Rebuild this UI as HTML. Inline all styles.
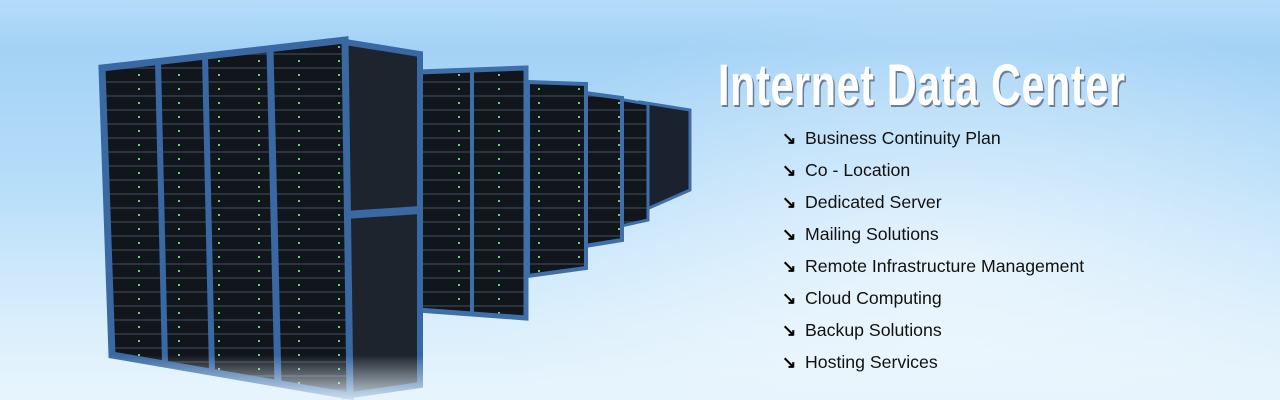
<!DOCTYPE html>
<html><head><meta charset="utf-8"><style>
html,body{margin:0;padding:0}
body{width:1280px;height:400px;overflow:hidden;position:relative;background:linear-gradient(180deg,#b4dcf8 0%,#a3d2f6 12%,#b6ddf9 45%,#d9eefc 80%,#e6f4fd 100%);font-family:"Liberation Sans",sans-serif}
.glow{position:absolute;left:0;top:0;width:1280px;height:400px;background:radial-gradient(ellipse 500px 260px at 950px 260px,rgba(255,255,255,.55),rgba(255,255,255,0))}
.title{position:absolute;left:718px;top:52px;font-size:58px;font-weight:bold;color:#fff;letter-spacing:1px;transform:scaleX(.71);transform-origin:0 0;white-space:nowrap;text-shadow:2px 2px 0 #6a7f95;font-family:"Liberation Sans Narrow","Liberation Sans",sans-serif}
ul{position:absolute;left:782px;top:126px;margin:0;padding:0;list-style:none}
li{height:32px;font-size:17.7px;color:#111;line-height:24px;white-space:nowrap}
li b{display:inline-block;width:23px;font-size:17px;font-weight:bold;color:#000}
</style></head><body>
<div class="glow"></div>
<svg width="1280" height="400" style="position:absolute;left:0;top:0">
<defs>
<pattern id="sv" width="40" height="14" patternUnits="userSpaceOnUse"><rect width="40" height="14" fill="#11161c"/><rect y="11" width="40" height="2" fill="#2b333d"/><rect x="18" y="4" width="2" height="2" fill="#6c7"/></pattern>
<linearGradient id="refl" x1="0" y1="0" x2="0" y2="1"><stop offset="0" stop-color="#e6f4fd" stop-opacity="0"/><stop offset="1" stop-color="#e6f4fd" stop-opacity=".85"/></linearGradient>
</defs>
<polygon points="640,102 690,110 690,190 640,212" fill="#1a2230" stroke="#3f6fa8" stroke-width="3"/>
<polygon points="612,98 648,104 648,220 612,228" fill="url(#sv)" stroke="#3f6fa8" stroke-width="3"/>
<polygon points="585,93 622,98 622,240 585,246" fill="url(#sv)" stroke="#3f6fa8" stroke-width="4"/>
<polygon points="528,82 586,84 586,268 528,276" fill="url(#sv)" stroke="#3f6fa8" stroke-width="4"/>
<polygon points="418,72 526,68 526,318 418,310" fill="url(#sv)" stroke="#3f6fa8" stroke-width="5"/>
<line x1="472" y1="70" x2="472" y2="316" stroke="#3f6fa8" stroke-width="4"/>
<polygon points="345,42 420,54 420,385 345,396" fill="#1d242d" stroke="#3a68a2" stroke-width="6"/>
<line x1="345" y1="215" x2="420" y2="210" stroke="#3a68a2" stroke-width="8"/>
<polygon points="102,68 345,40 350,396 112,355" fill="url(#sv)" stroke="#3a68a2" stroke-width="7"/>
<line x1="158" y1="62" x2="165" y2="363" stroke="#3a68a2" stroke-width="6"/>
<line x1="205" y1="56" x2="212" y2="372" stroke="#3a68a2" stroke-width="6"/>
<line x1="270" y1="49" x2="278" y2="383" stroke="#3a68a2" stroke-width="7"/>
<rect x="0" y="355" width="1280" height="45" fill="url(#refl)"/>
</svg>
<div class="title">Internet Data Center</div>
<ul>
<li><b>↘</b>Business Continuity Plan</li>
<li><b>↘</b>Co - Location</li>
<li><b>↘</b>Dedicated Server</li>
<li><b>↘</b>Mailing Solutions</li>
<li><b>↘</b>Remote Infrastructure Management</li>
<li><b>↘</b>Cloud Computing</li>
<li><b>↘</b>Backup Solutions</li>
<li><b>↘</b>Hosting Services</li>
</ul>
</body></html>
